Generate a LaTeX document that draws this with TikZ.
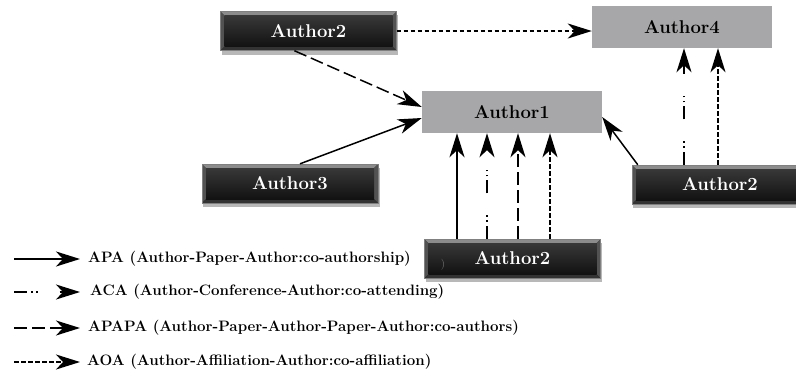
\documentclass[tikz,border=0pt]{standalone}
\usepackage{fontspec}
\usetikzlibrary{arrows.meta,calc,backgrounds}
\definecolor{boxgray}{RGB}{167,167,169}
\tikzset{
  nodefont/.style={font=\fontsize{18.5}{21}\selectfont\bfseries\addfontfeatures{FakeBold=0.6}},
  bevelpic/.style={path picture={
    \fill[black!45] (path picture bounding box.north west) -- (path picture bounding box.north east)
      -- ([shift={(-4pt,-4pt)}]path picture bounding box.north east) -- ([shift={(4pt,-4pt)}]path picture bounding box.north west) -- cycle;
    \fill[black!68] (path picture bounding box.north west) -- ([shift={(4pt,-4pt)}]path picture bounding box.north west)
      -- ([shift={(4pt,4pt)}]path picture bounding box.south west) -- (path picture bounding box.south west) -- cycle;
    \fill[black!68] (path picture bounding box.north east) -- ([shift={(-4pt,-4pt)}]path picture bounding box.north east)
      -- ([shift={(-4pt,4pt)}]path picture bounding box.south east) -- (path picture bounding box.south east) -- cycle;
    \fill[black!80] (path picture bounding box.south west) -- (path picture bounding box.south east)
      -- ([shift={(-4pt,4pt)}]path picture bounding box.south east) -- ([shift={(4pt,4pt)}]path picture bounding box.south west) -- cycle;
    \shade[top color=black!78, bottom color=black!93] ([shift={(4pt,4pt)}]path picture bounding box.south west) rectangle ([shift={(-4pt,-4pt)}]path picture bounding box.north east);
  }},
  blackbox/.style={nodefont, text=white, rectangle, inner sep=0pt, minimum width=176pt,
    minimum height=39pt, fill=black!90, draw=black!50, line width=0.4pt, bevelpic},
  graybox/.style={nodefont, text=black, rectangle, inner sep=0pt, fill=boxgray,
    minimum width=180pt, minimum height=42pt},
  lnk/.style={-{Stealth[length=24pt,width=15pt,inset=7pt]}, line width=1.5pt},
  apa/.style={lnk, line width=2.4pt},
  aca/.style={lnk, dash pattern=on 13pt off 4pt on 1.5pt off 3.5pt on 1.5pt off 22pt},
  apapa/.style={lnk, dash pattern=on 13pt off 5pt},
  aoa/.style={lnk, dash pattern=on 4.5pt off 2.5pt},
  legendtext/.style={font=\fontsize{15.1}{18}\selectfont\bfseries\addfontfeatures{FakeBold=0.5}, anchor=west, inner sep=0pt},
  shadowbox/.style={fill=black, opacity=0.28}
}
\begin{document}
\begin{tikzpicture}[x=1pt,y=-1pt]
\useasboundingbox (0,0) rectangle (796,376);

% nodes
\node[blackbox] (A2t) at (308.5,31) {Author2};
\node[graybox] (A4) at (682,27) {Author4};
\node[graybox] (A1) at (512,112) {Author1};
\node[blackbox] (A3) at (290,183.5) {Author3};
\node[blackbox] (A2r) at (720,184.5) {Author2};
\node[blackbox] (A2b) at (512.5,258.5) {Author2};
\node[font=\fontsize{11}{12}\selectfont, text=black!55, inner sep=0pt] (stray) at (443,265) {)};

% shadows
\begin{scope}[on background layer]
  \foreach \n in {A2t,A3,A2r,A2b}{
    \fill[shadowbox] ([shift={(1.5pt,-4pt)}]\n.south west) rectangle ([shift={(1.5pt,-4pt)}]\n.north east);
  }
\end{scope}

% connectors
\draw[aoa] (A2t.east) -- (A2t.east -| A4.west);
\draw[apapa] ($(A2t.south west)!0.42!(A2t.south east)$) -- ([yshift=5pt]A1.west);
\draw[lnk] ([xshift=10pt]A3.north) -- ([yshift=-6pt]A1.west);
\draw[lnk] ([xshift=6pt]A2r.north west) -- ([yshift=-5pt]A1.east);

\draw[apa]   ([xshift=-55.5pt]A2b.north) -- ([xshift=-55.5pt]A2b.north |- A1.south);
\draw[aca]   ([xshift=-25.5pt]A2b.north) -- ([xshift=-25.5pt]A2b.north |- A1.south);
\draw[apapa] ([xshift=5.5pt]A2b.north)   -- ([xshift=5.5pt]A2b.north |- A1.south);
\draw[aoa]   ([xshift=37.5pt]A2b.north)  -- ([xshift=37.5pt]A2b.north |- A1.south);

\draw[aca] ([xshift=-36pt]A2r.north) -- ([xshift=-36pt]A2r.north |- A4.south);
\draw[aoa] ([xshift=-2pt]A2r.north)  -- ([xshift=-2pt]A2r.north |- A4.south);

% legend
\coordinate (l1a) at (14,259); \coordinate (l1b) at (80,259);
\coordinate (l2a) at (14,292); \coordinate (l2b) at (80,292);
\coordinate (l3a) at (14,328); \coordinate (l3b) at (80,328);
\coordinate (l4a) at (14,362); \coordinate (l4b) at (80,362);
\draw[apa] (l1a) -- (l1b);
\draw[aca] (l2a) -- (l2b);
\draw[apapa] (l3a) -- (l3b);
\draw[aoa] (l4a) -- (l4b);
\node[legendtext] (t1) at (88,259) {APA (Author-Paper-Author:co-authorship)};
\node[legendtext] (t2) at (90,292) {ACA (Author-Conference-Author:co-attending)};
\node[legendtext] (t3) at (88,328) {APAPA (Author-Paper-Author-Paper-Author:co-authors)};
\node[legendtext] (t4) at (87,362) {AOA (Author-Affiliation-Author:co-affiliation)};
\end{tikzpicture}
\end{document}
